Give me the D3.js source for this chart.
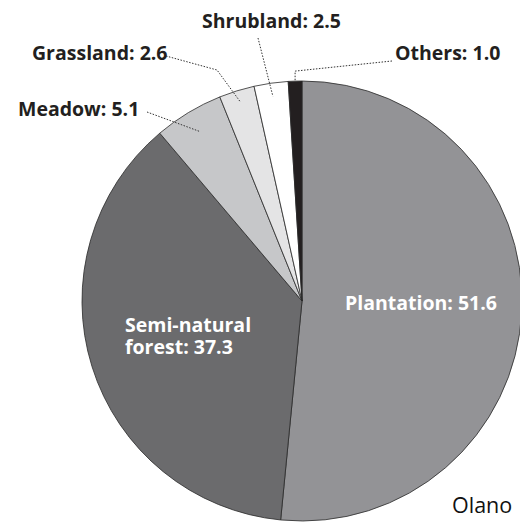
<!DOCTYPE html>
<html><head><meta charset="utf-8">
<script src="https://cdn.jsdelivr.net/npm/d3@7/dist/d3.min.js"></script>
<style>body{margin:0;background:#fff}svg{display:block}</style>
</head><body>
<svg id="c" width="520" height="523"></svg>
<script>
const categories = ["Plantation","Semi-natural forest","Meadow","Grassland","Shrubland","Others"];
const values = [51.6,37.3,5.1,2.6,2.5,1.0];
const colors = ["#939396","#6b6b6d","#c6c7c9","#e4e4e5","#ffffff","#231f20"];
const labels = ["Plantation: 51.6","Semi-natural|forest: 37.3","Meadow: 5.1","Grassland: 2.6","Shrubland: 2.5","Others: 1.0"];

const svg = d3.select("#c");
const cx = 302, cy = 301, R = 220;
const g = svg.append("g").attr("transform",`translate(${cx},${cy})`);
const pie = d3.pie().sort(null).value(d=>d.v);
const data = categories.map((c,i)=>({c, v:values[i], col:colors[i], lab:labels[i]}));
const arcs = pie(data);
const arc = d3.arc().innerRadius(0).outerRadius(R);
g.selectAll("path").data(arcs).join("path")
  .attr("d",arc).attr("fill",d=>d.data.col)
  .attr("stroke","#2a2a2a").attr("stroke-width",0.8).attr("stroke-linejoin","round");

const font = "'Open Sans', sans-serif";
const fs = 19.5;
// inside labels
const inside = [
  {i:0, x:345, y:310},
  {i:1, x:125, y:332}
];
inside.forEach(o=>{
  const lines = data[o.i].lab.split("|");
  lines.forEach((l,k)=>svg.append("text").attr("x",o.x).attr("y",o.y + k*22)
    .attr("fill","#fff").attr("font-family",font).attr("font-weight","bold").attr("font-size",fs)
    .text(l));
});

// outside labels with leaders
function pt(a, r){ return [cx + r*Math.sin(a), cy - r*Math.cos(a)]; }
const mid = a => (a.startAngle+a.endAngle)/2;
const outside = [
  {i:2, tx:18, ty:116, start:[147,112], rf:0.90, bend:null},
  {i:3, tx:32, ty:60, start:[166,56], rf:0.95, bend:[217,70]},
  {i:4, tx:202, ty:28, start:[258,38], rf:0.94, bend:null},
  {i:5, tx:395, ty:60, start:[392,61], rf:1.0, bend:"up"}
];
outside.forEach(o=>{
  const a = arcs[o.i];
  const e = pt(mid(a), R*o.rf);
  let pts = [o.start];
  if (o.bend==="up") pts.push([e[0], e[1]-10]);
  else if (o.bend) pts.push(o.bend);
  pts.push(e);
  svg.append("path").attr("d",d3.line()(pts)).attr("fill","none")
    .attr("stroke","#333").attr("stroke-width",1).attr("stroke-dasharray","1.5,1.5");
  svg.append("text").attr("x",o.tx).attr("y",o.ty)
    .attr("fill","#231f20").attr("font-family",font).attr("font-weight","bold").attr("font-size",fs)
    .text(data[o.i].lab);
});

svg.append("text").attr("x",452).attr("y",513).attr("font-family","'Open Sans', sans-serif")
  .attr("font-size",21.5).attr("fill","#111").text("Olano");
</script>
</body></html>
